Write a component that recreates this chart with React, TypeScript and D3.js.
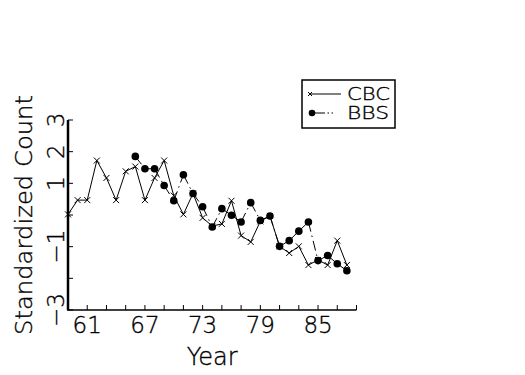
import React from "react";
import * as d3 from "d3";

const cbcYears = [59,60,61,62,63,64,65,66,67,68,69,70,71,72,73,74,75,76,77,78,79,80,81,82,83,84,85,86,87,88];
const cbcValues = [0.02,0.47,0.47,1.72,1.17,0.47,1.38,1.53,0.47,1.17,1.72,0.61,0.02,0.68,-0.09,-0.35,-0.28,0.45,-0.65,-0.85,-0.2,-0.03,-0.99,-1.2,-0.99,-1.58,-1.42,-1.58,-0.81,-1.58];
const bbsYears = [66,67,68,69,70,71,72,73,74,75,76,77,78,79,80,81,82,83,84,85,86,87,88];
const bbsValues = [1.85,1.46,1.46,0.93,0.45,1.27,0.68,0.26,-0.38,0.2,-0.01,-0.22,0.39,-0.17,-0.03,-0.99,-0.81,-0.51,-0.22,-1.44,-1.28,-1.54,-1.76];
const xTicks = [61,63,65,67,69,71,73,75,77,79,81,83,85,87,89];
const xTickLabels = [61,67,73,79,85];
const yTicks = [3,2,1,0,-1,-2,-3];
const yTickLabels = [3,2,1,-1,-3];
const seriesNames = ["CBC","BBS"];

const FONT = "'DejaVu Sans', sans-serif";

export default function App() {
  const W = 525, H = 375;
  const x = d3.scaleLinear().domain([59, 89]).range([68, 356.5]);
  const y = d3.scaleLinear().domain([-3, 3]).range([310, 120]);

  const cbc = cbcYears.map((yr, i) => [yr, cbcValues[i]] as [number, number]);
  const bbs = bbsYears.map((yr, i) => [yr, bbsValues[i]] as [number, number]);
  const line = d3.line<[number, number]>().x(d => x(d[0])).y(d => y(d[1]));

  const dash = "10 4 1.5 4";
  const fmt = (v: number) => (v < 0 ? "\u2212" + Math.abs(v) : String(v));

  return (
    <svg width={W} height={H} style={{ position: "absolute", left: 0, top: 0, background: "#fff" }}>
      <g fontFamily={FONT} fontWeight={200} fill="#000" stroke="none">
        {/* axes */}
        <line x1={x(59)} x2={x(59)} y1={y(3)} y2={y(-3)} stroke="#000" strokeWidth={2.5} />
        <line x1={x(59) - 1} x2={x(89)} y1={y(-3)} y2={y(-3)} stroke="#000" strokeWidth={1.5} />
        {yTicks.map(t => (
          <line key={"yt" + t} x1={x(59)} x2={x(59) + 5} y1={y(t)} y2={y(t)} stroke="#000" strokeWidth={1} />
        ))}
        {xTicks.map(t => (
          <line key={"xt" + t} x1={x(t)} x2={x(t)} y1={y(-3)} y2={y(-3) - 5} stroke="#000" strokeWidth={1} />
        ))}
        <g stroke="#000" strokeWidth={0.35}>
          {xTickLabels.map(t => (
            <text key={"xl" + t} x={x(t)} y={333} fontSize={23} textAnchor="middle">{t}</text>
          ))}
          {yTickLabels.map(t => (
            <text key={"yl" + t} transform={`translate(64,${y(t)}) rotate(-90)`} fontSize={23} textAnchor="middle">{fmt(t)}</text>
          ))}
          <text x={(x(59) + x(89)) / 2} y={365} fontSize={24} textAnchor="middle">Year</text>
          <text transform={`translate(32,${(y(3) + y(-3)) / 2}) rotate(-90)`} fontSize={23} textAnchor="middle" textLength={240} lengthAdjust="spacingAndGlyphs">Standardized Count</text>
          <text x={347} y={100} fontSize={17} textLength={43} lengthAdjust="spacingAndGlyphs">{seriesNames[0]}</text>
          <text x={347} y={119} fontSize={17} textLength={42} lengthAdjust="spacingAndGlyphs">{seriesNames[1]}</text>
        </g>

        {/* CBC */}
        <path d={line(cbc) || ""} fill="none" stroke="#000" strokeWidth={1} />
        {cbc.map((d, i) => (
          <path key={"c" + i} transform={`translate(${x(d[0])},${y(d[1])})`} d="M-3,-3L3,3M-3,3L3,-3" stroke="#000" strokeWidth={1} fill="none" />
        ))}

        {/* BBS */}
        {bbs.slice(1).map((d, i) => (
          <line key={"bs" + i} x1={x(bbs[i][0])} y1={y(bbs[i][1])} x2={x(d[0])} y2={y(d[1])} stroke="#000" strokeWidth={1} strokeDasharray={dash} />
        ))}
        {bbs.map((d, i) => (
          <circle key={"b" + i} cx={x(d[0])} cy={y(d[1])} r={3.8} fill="#000" />
        ))}

        {/* legend */}
        <rect x={302} y={80} width={93} height={48} fill="none" stroke="#000" strokeWidth={1.5} />
        <line x1={309} x2={341} y1={94} y2={94} stroke="#000" strokeWidth={1} />
        <path transform="translate(310,94)" d="M-2,-2L2,2M-2,2L2,-2" stroke="#000" strokeWidth={1} />
        <line x1={312} x2={334} y1={113} y2={113} stroke="#000" strokeWidth={1} strokeDasharray="13 2.5 1.5 2.5 1.5 20" />
        <circle cx={312} cy={113} r={3.3} fill="#000" />
      </g>
    </svg>
  );
}
